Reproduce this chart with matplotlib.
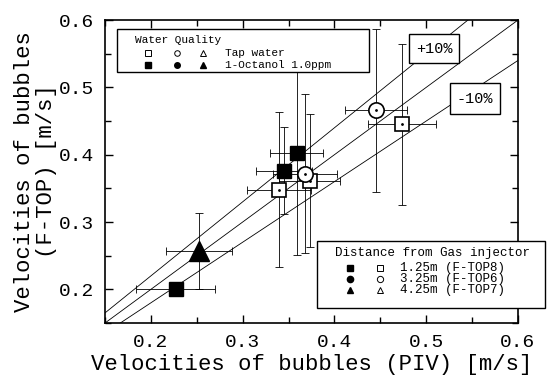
import matplotlib
matplotlib.use("Agg")
import matplotlib.pyplot as plt
from matplotlib.patches import Rectangle
from matplotlib.ticker import MultipleLocator

plt.rcParams['font.family'] = ['Liberation Mono', 'DejaVu Sans Mono']

# Tap water (open markers)
tap_sq_x = [0.4735, 0.373, 0.3395]
tap_sq_y = [0.445, 0.3616, 0.348]
tap_sq_xerr = [0.037, 0.033, 0.035]
tap_sq_yerr = [0.119, 0.099, 0.115]

tap_ci_x = [0.445, 0.368]
tap_ci_y = [0.466, 0.372]
tap_ci_xerr = [0.034, 0.035]
tap_ci_yerr = [0.121, 0.118]

# 1-Octanol 1.0ppm (filled markers)
oct_sq_x = [0.359, 0.345, 0.227]
oct_sq_y = [0.403, 0.3765, 0.200]
oct_sq_xerr = [0.029, 0.030, 0.043]
oct_sq_yerr = [0.152, 0.064, 0.0]

oct_tr_x = [0.252]
oct_tr_y = [0.257]
oct_tr_xerr = [0.036]
oct_tr_yerr = [0.057]

ratios = [1.1, 1.0, 0.9]

fig = plt.figure(figsize=(5.51, 3.78), dpi=100)
ax = fig.add_axes([0.1906, 0.1455, 0.7495, 0.8015])

# reference lines
for r in ratios:
    ax.plot([0.0, 0.7], [0.0, 0.7 * r], color='black', lw=0.6, zorder=1)

ebkw = dict(fmt='none', ecolor='black', elinewidth=0.6, capsize=3, capthick=0.6, zorder=2)
ax.errorbar(tap_sq_x, tap_sq_y, xerr=tap_sq_xerr, yerr=tap_sq_yerr, **ebkw)
ax.errorbar(tap_ci_x, tap_ci_y, xerr=tap_ci_xerr, yerr=tap_ci_yerr, **ebkw)
ax.errorbar(oct_sq_x, oct_sq_y, xerr=oct_sq_xerr, yerr=oct_sq_yerr, **ebkw)
ax.errorbar(oct_tr_x, oct_tr_y, xerr=oct_tr_xerr, yerr=oct_tr_yerr, **ebkw)

ax.plot(tap_sq_x, tap_sq_y, 's', ms=10, mfc='white', mec='black', mew=1.2, ls='none', zorder=3)
ax.plot(tap_ci_x, tap_ci_y, 'o', ms=11, mfc='white', mec='black', mew=1.2, ls='none', zorder=3)
ax.plot(tap_sq_x + tap_ci_x, tap_sq_y + tap_ci_y, '.', ms=2, color='black', ls='none', zorder=4)
ax.plot(oct_sq_x, oct_sq_y, 's', ms=10, color='black', ls='none', zorder=3)
ax.plot(oct_tr_x, oct_tr_y, '^', ms=14, color='black', ls='none', zorder=3)

ax.set_xlim(0.15, 0.6)
ax.set_ylim(0.15, 0.6)
ax.xaxis.set_major_locator(MultipleLocator(0.1))
ax.xaxis.set_minor_locator(MultipleLocator(0.05))
ax.yaxis.set_major_locator(MultipleLocator(0.1))
ax.yaxis.set_minor_locator(MultipleLocator(0.05))
ax.tick_params(which='both', direction='in', top=True, right=True, width=1.0)
ax.tick_params(which='major', length=6, labelsize=14, pad=8)
ax.tick_params(which='minor', length=4)
ax.set_xticks([0.2, 0.3, 0.4, 0.5, 0.6])
ax.set_xticklabels(['0.2', '0.3', '0.4', '0.5', '0.6'])
ax.set_yticks([0.2, 0.3, 0.4, 0.5, 0.6])
ax.set_yticklabels(['0.2', '0.3', '0.4', '0.5', '0.6'])
for s in ax.spines.values():
    s.set_linewidth(1.2)

ax.set_xlabel('Velocities of bubbles (PIV) [m/s]', fontsize=16, labelpad=2)
ax.set_ylabel('Velocities of bubbles\n(F-TOP) [m/s]', fontsize=16, labelpad=1, linespacing=1.05)

T = ax.transAxes

# upper legend: water quality
ax.add_patch(Rectangle((0.029, 0.828), 0.61, 0.142, transform=T, fill=True,
                       fc='white', ec='black', lw=1.0, zorder=5))
ax.text(0.0726, 0.934, 'Water Quality', transform=T, fontsize=8, va='center', zorder=6)
ax.plot([0.104], [0.891], 's', ms=4, mfc='white', mec='black', mew=0.7, transform=T, zorder=6)
ax.plot([0.174], [0.891], 'o', ms=4, mfc='white', mec='black', mew=0.7, transform=T, zorder=6)
ax.plot([0.237], [0.891], '^', ms=5, mfc='white', mec='black', mew=0.7, transform=T, zorder=6)
ax.text(0.29, 0.891, 'Tap water', transform=T, fontsize=8, va='center', zorder=6)
ax.plot([0.104], [0.851], 's', ms=4, color='black', transform=T, zorder=6)
ax.plot([0.174], [0.851], 'o', ms=4, color='black', transform=T, zorder=6)
ax.plot([0.237], [0.851], '^', ms=5, color='black', transform=T, zorder=6)
ax.text(0.29, 0.851, '1-Octanol 1.0ppm', transform=T, fontsize=8, va='center', zorder=6)

# lower legend: distance from gas injector
ax.add_patch(Rectangle((0.513, 0.0495), 0.552, 0.221, transform=T, fill=True,
                       fc='white', ec='black', lw=1.0, zorder=5, clip_on=False))
ax.text(0.557, 0.231, 'Distance from Gas injector', transform=T, fontsize=9, va='center', zorder=6)
rows = [(0.1815, 's', '1.25m (F-TOP8)'), (0.145, 'o', '3.25m (F-TOP6)'), (0.109, '^', '4.25m (F-TOP7)')]
for yy, mk, lab in rows:
    ax.plot([0.593], [yy], mk, ms=4.5, color='black', transform=T, zorder=6, clip_on=False)
    ax.plot([0.666], [yy], mk, ms=4.5, mfc='white', mec='black', mew=0.7, transform=T, zorder=6, clip_on=False)
    ax.text(0.714, yy, lab, transform=T, fontsize=9, va='center', zorder=6, clip_on=False)

# +10% / -10% labels
for (x0, y0, w, h, lab) in [(0.736, 0.858, 0.121, 0.096, '+10%'), (0.835, 0.690, 0.121, 0.102, '-10%')]:
    ax.add_patch(Rectangle((x0, y0), w, h, transform=T, fc='white', ec='black', lw=1.0, zorder=5))
    ax.text(x0 + w / 2, y0 + h / 2, lab, transform=T, fontsize=11, ha='center', va='center', zorder=6)

fig.savefig('out.png', dpi=100)
